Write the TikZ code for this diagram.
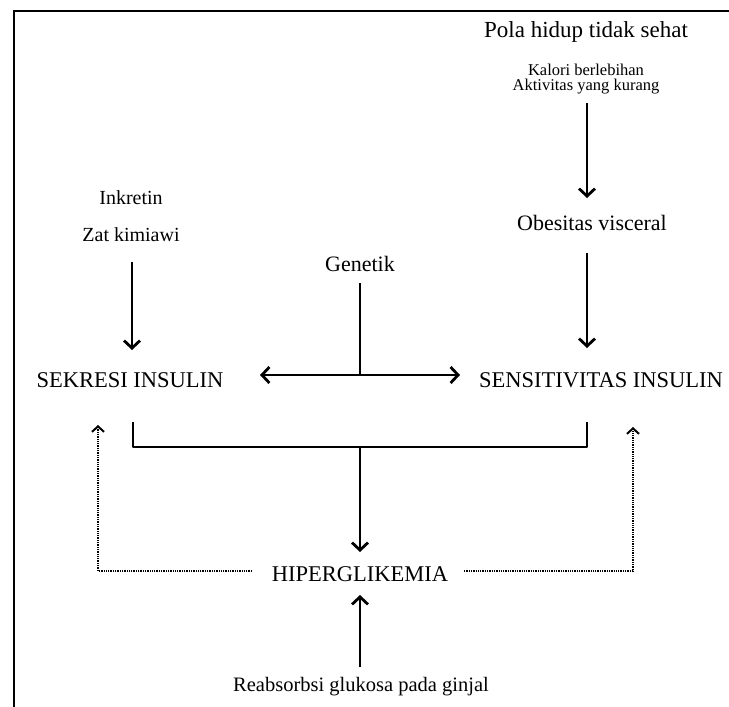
\documentclass[tikz,border=0pt]{standalone}
\usepackage{fontspec}
\setmainfont{Liberation Serif}
\usetikzlibrary{arrows.meta}
\begin{document}
\begin{tikzpicture}[x=1pt,y=-1pt,
  lbl/.style={inner sep=0pt,anchor=center},
  arr/.style={line width=2.8pt,-{Straight Barb[length=7.5pt,width=16pt,line width=2.8pt]}},
  darr/.style={line width=2.8pt,{Straight Barb[length=7.5pt,width=16pt,line width=2.8pt]}-{Straight Barb[length=7.5pt,width=16pt,line width=2.8pt]}},
  solidline/.style={line width=2.8pt,line join=round},
  dotline/.style={line width=1.9pt,dash pattern=on 1.3pt off 1.0pt},
  dotarr/.style={dotline,-{Straight Barb[length=5.5pt,width=12pt,line width=2pt]}},
  framel/.style={line width=2pt}]
\useasboundingbox (0,0) rectangle (729,707);
% frame
\coordinate (fr1) at (729,10.5);
\coordinate (fr2) at (13.5,10.5);
\coordinate (fr3) at (13.5,707);
\draw[framel] (fr1) -- (fr2) -- (fr3);
% texts
\node[lbl,font=\fontsize{23}{26}\selectfont] (pola) at (586,32) {Pola hidup tidak sehat};
\node[lbl,font=\fontsize{16.5}{18}\selectfont] (kalori) at (586,70) {Kalori berlebihan};
\node[lbl,font=\fontsize{16.5}{18}\selectfont] (aktiv) at (586,87) {Aktivitas yang kurang};
\node[lbl,font=\fontsize{22}{24}\selectfont] (obes) at (592,223) {Obesitas visceral};
\node[lbl,font=\fontsize{20}{22}\selectfont] (inkretin) at (131,198) {Inkretin};
\node[lbl,font=\fontsize{20}{22}\selectfont] (zat) at (131,235) {Zat kimiawi};
\node[lbl,font=\fontsize{22}{24}\selectfont] (genetik) at (360,264) {Genetik};
\node[lbl,font=\fontsize{22.5}{24}\selectfont] (sekresi) at (130,380) {SEKRESI INSULIN};
\node[lbl,font=\fontsize{22.5}{24}\selectfont] (sensit) at (601,380) {SENSITIVITAS INSULIN};
\node[lbl,font=\fontsize{22.5}{24}\selectfont] (hiper) at (360,574) {HIPERGLIKEMIA};
\node[lbl,font=\fontsize{20.5}{22}\selectfont] (reab) at (361,687) {Reabsorbsi glukosa pada ginjal};
% coordinates
\coordinate (a1s) at (587,103);
\coordinate (a1e) at (587,198);
\coordinate (a2s) at (587,253);
\coordinate (a2e) at (587,348);
\coordinate (a3s) at (132,262);
\coordinate (a3e) at (132,350);
\coordinate (gtop) at (360,283);
\coordinate (gmid) at (360,375);
\coordinate (gl) at (260,375);
\coordinate (gr) at (460,375);
\coordinate (bl) at (133,422);
\coordinate (blc) at (133,447);
\coordinate (brc) at (587,447);
\coordinate (br) at (587,422);
\coordinate (bm) at (360,447);
\coordinate (bme) at (360,552);
\coordinate (rs) at (360,667);
\coordinate (re) at (360,595);
\coordinate (dls) at (252,571);
\coordinate (dlc) at (98,571);
\coordinate (dle) at (98,425);
\coordinate (drs) at (464,571);
\coordinate (drc) at (633,571);
\coordinate (dre) at (633,427);
% arrows
\draw[arr] (a1s) -- (a1e);
\draw[arr] (a2s) -- (a2e);
\draw[arr] (a3s) -- (a3e);
\draw[solidline] (gtop) -- (gmid);
\draw[darr] (gl) -- (gr);
\draw[solidline] (bl) -- (blc) -- (brc) -- (br);
\draw[arr] (bm) -- (bme);
\draw[arr] (rs) -- (re);
\draw[dotarr] (dls) -- (dlc) -- (dle);
\draw[dotarr] (drs) -- (drc) -- (dre);
\end{tikzpicture}
\end{document}
